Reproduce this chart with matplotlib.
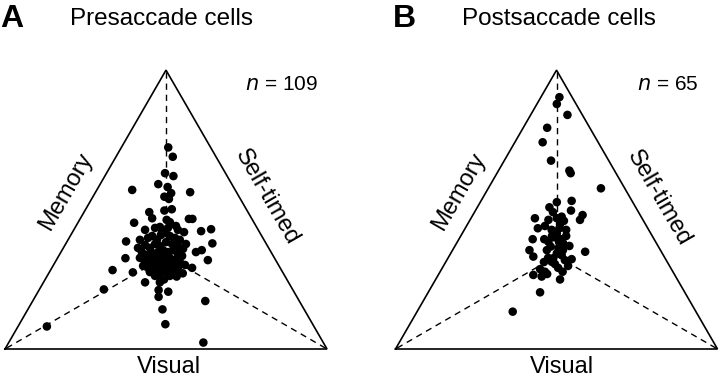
import matplotlib
matplotlib.use("Agg")
import matplotlib.pyplot as plt
import numpy as np

plt.rcParams['font.family'] = ['Liberation Sans', 'DejaVu Sans']

# Vertex labels of the ternary plot
labels = ["Visual", "Memory", "Self-timed"]
panel_letters = ["A", "B"]
titles = ["Presaccade cells", "Postsaccade cells"]
n_labels = ["109", "65"]

# Point positions in triangle coordinates (side length = 1; left vertex at 0,0)
pre_x = [0.507, 0.521, 0.497, 0.523, 0.476, 0.505, 0.395, 0.575, 0.516, 0.495,
         0.509, 0.448, 0.457, 0.495, 0.518, 0.401, 0.571, 0.582, 0.640, 0.609,
         0.502, 0.512, 0.481, 0.537, 0.488, 0.376, 0.644, 0.611, 0.593, 0.630,
         0.581, 0.374, 0.334, 0.397, 0.307, 0.435, 0.130, 0.481, 0.494, 0.477,
         0.507, 0.477, 0.489, 0.498, 0.622, 0.616, 0.531, 0.552, 0.533,
         0.444, 0.457, 0.472, 0.484, 0.497, 0.512, 0.528, 0.543,
         0.435, 0.450, 0.466, 0.481, 0.500, 0.519, 0.537, 0.553,
         0.425, 0.441, 0.457, 0.475, 0.491, 0.506, 0.522, 0.537, 0.550,
         0.419, 0.435, 0.450, 0.466, 0.481, 0.497, 0.512, 0.528, 0.543,
         0.429, 0.444, 0.460, 0.475, 0.491, 0.506, 0.522, 0.537,
         0.450, 0.469, 0.488, 0.503, 0.519,
         0.435, 0.466, 0.506, 0.531, 0.556, 0.562, 0.413, 0.419,
         0.559, 0.466, 0.481, 0.512]
pre_y = [0.626, 0.597, 0.546, 0.537, 0.512, 0.503, 0.494, 0.487, 0.484, 0.473,
         0.466, 0.425, 0.406, 0.430, 0.434, 0.392, 0.404, 0.404, 0.372, 0.366,
         0.401, 0.394, 0.379, 0.370, 0.363, 0.334, 0.328, 0.307, 0.301, 0.276,
         0.252, 0.282, 0.245, 0.238, 0.185, 0.207, 0.070, 0.207, 0.216, 0.183,
         0.178, 0.162, 0.123, 0.077, 0.149, 0.020, 0.243, 0.235, 0.225,
         0.345, 0.351, 0.339, 0.354, 0.360, 0.351, 0.345, 0.339,
         0.323, 0.314, 0.326, 0.320, 0.332, 0.326, 0.320, 0.311,
         0.301, 0.292, 0.298, 0.301, 0.307, 0.301, 0.307, 0.295, 0.289,
         0.283, 0.270, 0.276, 0.283, 0.283, 0.289, 0.283, 0.276, 0.270,
         0.258, 0.252, 0.261, 0.264, 0.270, 0.264, 0.258, 0.252,
         0.239, 0.245, 0.252, 0.239, 0.245,
         0.370, 0.376, 0.376, 0.382, 0.363, 0.326, 0.314, 0.339,
         0.261, 0.227, 0.230, 0.227]

post_x = [0.509, 0.501, 0.534, 0.471, 0.457, 0.483, 0.540, 0.544, 0.638,
          0.501, 0.547, 0.478, 0.545, 0.581, 0.573, 0.433, 0.475, 0.501, 0.516,
          0.523, 0.442, 0.485, 0.509, 0.501, 0.426, 0.462, 0.475, 0.493, 0.516,
          0.521, 0.482, 0.506, 0.540, 0.416, 0.428, 0.589, 0.501, 0.516, 0.490,
          0.526, 0.547, 0.485, 0.449, 0.464, 0.428, 0.454, 0.471, 0.519, 0.511,
          0.449, 0.364,
          0.489, 0.511, 0.530, 0.464, 0.486, 0.530, 0.508, 0.470, 0.520, 0.495,
          0.536, 0.474, 0.505, 0.461]
post_y = [0.782, 0.761, 0.727, 0.687, 0.642, 0.585, 0.554, 0.546, 0.499,
          0.456, 0.460, 0.440, 0.430, 0.416, 0.401, 0.406, 0.401, 0.406, 0.411,
          0.398, 0.375, 0.370, 0.375, 0.359, 0.341, 0.341, 0.333, 0.347, 0.341,
          0.328, 0.318, 0.313, 0.320, 0.307, 0.287, 0.302, 0.297, 0.292, 0.282,
          0.276, 0.279, 0.271, 0.248, 0.240, 0.230, 0.225, 0.233, 0.240, 0.216,
          0.176, 0.116,
          0.425, 0.388, 0.370, 0.382, 0.351, 0.351, 0.332, 0.307, 0.307, 0.264,
          0.258, 0.283, 0.252, 0.270]

W, H = 720, 378
fig = plt.figure(figsize=(W / 100, H / 100), dpi=100)

side_px = 322.0
xlim = (-0.015, 1.015)
ylim = (-0.05, 0.90)
ax_w = (xlim[1] - xlim[0]) * side_px
ax_h = (ylim[1] - ylim[0]) * side_px
base_px_from_bottom = 29.0
bottom = base_px_from_bottom + ylim[0] * side_px

panels = [
    dict(x=pre_x, y=pre_y, left0=5.0, mem=(0.190, 0.488), self=(0.814, 0.472),
         vis=(0.508, -0.056), n=(0.857, 0.820)),
    dict(x=post_x, y=post_y, left0=395.5, mem=(0.197, 0.489), self=(0.816, 0.468),
         vis=(0.516, -0.056), n=(0.845, 0.820)),
]

h = np.sqrt(3) / 2
verts_x = [0.0, 1.0, 0.5, 0.0]
verts_y = [0.0, 0.0, h, 0.0]
cx, cy = 0.5, h / 3

for i, p in enumerate(panels):
    left = p['left0'] + xlim[0] * side_px
    ax = fig.add_axes([left / W, bottom / H, ax_w / W, ax_h / H])
    ax.set_xlim(*xlim)
    ax.set_ylim(*ylim)
    ax.axis('off')
    ax.plot(verts_x, verts_y, color='black', lw=1.2, clip_on=False,
            solid_joinstyle='miter', zorder=2)
    for vx, vy in zip(verts_x[:3], verts_y[:3]):
        ax.plot([cx, vx], [cy, vy], color='black', lw=1.0,
                linestyle=(0, (4.5, 3.5)), clip_on=False, zorder=1)
    ax.scatter(p['x'], p['y'], s=38, color='black', edgecolors='none',
               zorder=3, clip_on=False)
    ax.text(*p['mem'], labels[1], rotation=60, ha='center', va='center',
            fontsize=17, rotation_mode='anchor')
    ax.text(*p['self'], labels[2], rotation=-60, ha='center', va='center',
            fontsize=17, rotation_mode='anchor')
    ax.text(*p['vis'], labels[0], ha='center', va='center', fontsize=17)
    ax.text(*p['n'], r"$\it{n}$ = " + n_labels[i], ha='center', va='center',
            fontsize=15)

fig.text(0.0 / W, 1 - 27 / H, panel_letters[0], fontsize=23, fontweight='bold',
         ha='left', va='baseline')
fig.text(70 / W, 1 - 25 / H, titles[0], fontsize=17.5, ha='left', va='baseline')
fig.text(393 / W, 1 - 27 / H, panel_letters[1], fontsize=23, fontweight='bold',
         ha='left', va='baseline')
fig.text(462 / W, 1 - 25 / H, titles[1], fontsize=17.5, ha='left', va='baseline')

fig.savefig("out.png", dpi=100)
